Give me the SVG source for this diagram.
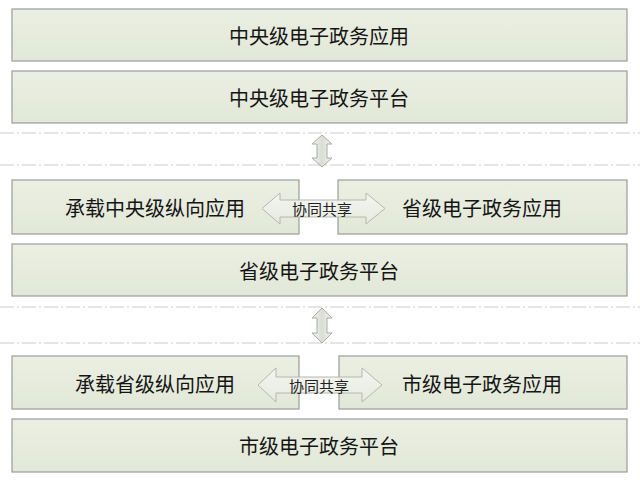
<svg xmlns="http://www.w3.org/2000/svg" width="640" height="483" viewBox="0 0 640 483">
<defs>
<linearGradient id="boxg" x1="0" y1="0" x2="0" y2="1">
<stop offset="0" stop-color="#ebefe3"/>
<stop offset="1" stop-color="#e2e8d7"/>
</linearGradient>
<linearGradient id="arrg" x1="0" y1="0" x2="1" y2="0">
<stop offset="0" stop-color="#f4f6f0"/>
<stop offset="0.5" stop-color="#d9ddd4"/>
<stop offset="1" stop-color="#f4f6f0"/>
</linearGradient>
<linearGradient id="harrg" x1="0" y1="0" x2="0" y2="1">
<stop offset="0" stop-color="#f5f7f1"/>
<stop offset="1" stop-color="#e6eadf"/>
</linearGradient>
<style>
.box{fill:url(#boxg);stroke:#9c9c9c;stroke-width:1.2}
.t{font-family:"Noto Sans CJK SC","Noto Sans",sans-serif;font-size:20px;fill:#151515;text-anchor:middle;dominant-baseline:central}
.s{font-family:"Noto Sans CJK SC","Noto Sans",sans-serif;font-size:15px;fill:#222;text-anchor:middle;dominant-baseline:central}
.dash{stroke:#cccccc;stroke-width:1.2;stroke-dasharray:14 3 2 3;fill:none}
.va{fill:url(#arrg);stroke:#a8aca4;stroke-width:1}
.ha{fill:url(#harrg);stroke:#b4b8ae;stroke-width:1;fill-opacity:0.9}
</style>
</defs>
<rect width="640" height="483" fill="#ffffff"/>
<g id="n1"><rect class="box" x="12" y="9" width="615" height="52"/><text class="t" x="319" y="35">中央级电子政务应用</text></g>
<g id="n2"><rect class="box" x="12" y="71" width="615" height="52"/><text class="t" x="319" y="97">中央级电子政务平台</text></g>
<g id="n3"><rect class="box" x="12" y="180" width="287" height="54"/><text class="t" x="155" y="207">承载中央级纵向应用</text></g>
<g id="n4"><rect class="box" x="338" y="180" width="289" height="54"/><text class="t" x="482" y="207">省级电子政务应用</text></g>
<g id="n5"><rect class="box" x="12" y="244" width="615" height="52"/><text class="t" x="319" y="270">省级电子政务平台</text></g>
<g id="n6"><rect class="box" x="12" y="356" width="287" height="53"/><text class="t" x="155" y="383">承载省级纵向应用</text></g>
<g id="n7"><rect class="box" x="339" y="356" width="288" height="53"/><text class="t" x="482" y="383">市级电子政务应用</text></g>
<g id="n8"><rect class="box" x="12" y="419" width="615" height="53"/><text class="t" x="319" y="445">市级电子政务平台</text></g>
<g id="connectors">
<line class="dash" x1="0" y1="133" x2="640" y2="133"/>
<line class="dash" x1="0" y1="165" x2="640" y2="165"/>
<line class="dash" x1="0" y1="307" x2="640" y2="307"/>
<line class="dash" x1="0" y1="343" x2="640" y2="343"/>
<path class="va" d="M322,135 L332,144 L327,144 L327,158 L332,158 L322,167 L312,158 L317,158 L317,144 L312,144 Z"/>
<path class="va" d="M322,308 L332,318 L327,318 L327,333 L332,333 L322,343 L312,333 L317,333 L317,318 L312,318 Z"/>
<path class="ha" d="M262,208.5 L280,193 L280,200 L366,200 L366,193 L385,208.5 L366,224 L366,217 L280,217 L280,224 Z"/>
<text class="s" x="322" y="208">协同共享</text>
<path class="ha" d="M258,385 L276,368 L276,377 L362,377 L362,368 L382,385 L362,402 L362,393 L276,393 L276,402 Z"/>
<text class="s" x="319" y="385">协同共享</text>
</g>
</svg>
